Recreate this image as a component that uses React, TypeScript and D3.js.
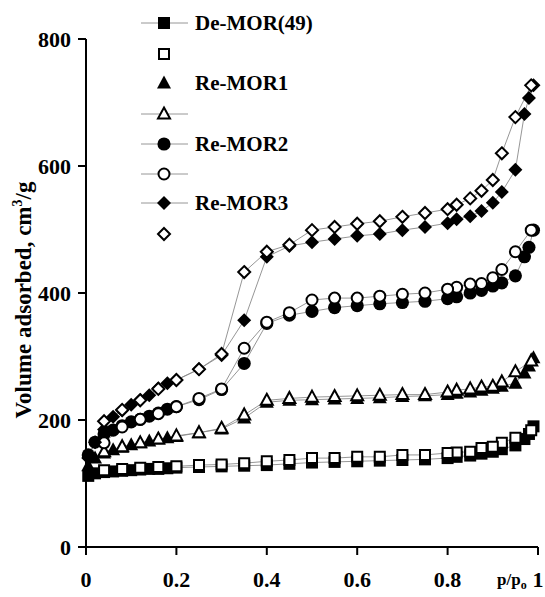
import React from "react";
import * as d3 from "d3";

const pAds = [0.005,0.02,0.04,0.06,0.08,0.1,0.12,0.14,0.16,0.18,0.2,0.25,0.3,0.35,0.4,0.45,0.5,0.55,0.6,0.65,0.7,0.75,0.8,0.82,0.85,0.875,0.9,0.92,0.95,0.97,0.98,0.99];
const pDes = [0.985,0.95,0.92,0.9,0.875,0.85,0.82,0.8,0.75,0.7,0.65,0.6,0.55,0.5,0.45,0.4,0.35,0.3,0.25,0.2,0.16,0.12,0.08,0.04];

const deMorAds = [112,116,118,119,120,121,122,123,123,124,125,126,127,128,129,131,133,134,135,136,137,138,140,142,144,147,150,154,160,170,178,190];
const deMorDes = [184,172,164,158,156,150,149,148,145,145,142,142,140,140,137,135,132,130,129,127,126,125,123,121];

const reMor1Ads = [128,140,148,153,157,161,164,167,170,172,174,180,186,203,228,231,232,233,234,235,237,238,240,242,244,247,250,253,258,274,285,298];
const reMor1Des = [293,276,260,253,252,249,247,244,240,240,239,238,237,236,234,231,208,187,180,175,170,164,158,150];

const reMor2Ads = [145,165,178,184,191,197,201,206,211,217,221,232,248,289,352,365,371,377,380,383,385,387,391,394,400,404,411,416,427,457,472,499];
const reMor2Des = [499,465,437,424,415,414,409,406,400,398,395,392,392,389,369,354,313,249,234,221,210,201,189,164];

const reMor3Ads = [140,165,185,205,215,224,232,239,250,258,263,280,302,357,457,474,480,485,490,493,499,504,510,516,521,529,542,559,594,682,707,727];
const reMor3Des = [727,677,620,578,561,549,539,532,526,520,513,509,504,499,476,465,433,304,280,263,249,231,216,198];

const seriesNames = ["De-MOR(49)", "Re-MOR1", "Re-MOR2", "Re-MOR3"];
const xTicks = [0, 0.2, 0.4, 0.6, 0.8, 1];
const xTickLabels = ["0", "0.2", "0.4", "0.6", "0.8", "1"];
const yTicks = [0, 200, 400, 600, 800];

type Shape = "square" | "triangle" | "circle" | "diamond";

function markerPath(shape: Shape): string {
  if (shape === "square") return "M-5,-5H5V5H-5Z";
  if (shape === "triangle") return "M0,-6.5L6,4.5H-6Z";
  if (shape === "diamond") return "M0,-6L6,0L0,6L-6,0Z";
  return d3.symbol().type(d3.symbolCircle).size(95)() as string;
}
function filledPath(shape: Shape): string {
  if (shape === "square") return "M-6,-6H6V6H-6Z";
  if (shape === "triangle") return "M0,-7.5L7,5.5H-7Z";
  if (shape === "diamond") return "M0,-7L7,0L0,7L-7,0Z";
  return d3.symbol().type(d3.symbolCircle).size(135)() as string;
}

const FONT = "Liberation Serif, Times New Roman, serif";

export default function App() {
  const W = 545, H = 597;
  const x = d3.scaleLinear().domain([0, 1]).range([86, 538]);
  const y = d3.scaleLinear().domain([0, 800]).range([547, 39]);
  const line = d3.line<[number, number]>().x(d => x(d[0])).y(d => y(d[1]));

  const sets: { p: number[]; v: number[]; shape: Shape; filled: boolean }[] = [
    { p: pAds, v: deMorAds, shape: "square", filled: true },
    { p: pDes, v: deMorDes, shape: "square", filled: false },
    { p: pAds, v: reMor1Ads, shape: "triangle", filled: true },
    { p: pDes, v: reMor1Des, shape: "triangle", filled: false },
    { p: pAds, v: reMor2Ads, shape: "circle", filled: true },
    { p: pDes, v: reMor2Des, shape: "circle", filled: false },
    { p: pAds, v: reMor3Ads, shape: "diamond", filled: true },
    { p: pDes, v: reMor3Des, shape: "diamond", filled: false },
  ];

  const legendRows = [23, 54, 83, 114, 144, 174, 203, 234];
  const legendHasLine = [true, false, false, true, true, true, true, false];

  const drawMarker = (shape: Shape, filled: boolean, cx: number, cy: number, key: any) =>
    filled ? (
      <path key={key} d={filledPath(shape)} transform={`translate(${cx},${cy})`} fill="#000" stroke="none" />
    ) : (
      <path key={key} d={markerPath(shape)} transform={`translate(${cx},${cy})`} fill="#fff" stroke="#000" strokeWidth={2} />
    );

  return (
    <svg width={W} height={H} style={{ position: "absolute", left: 0, top: 0, background: "#fff", fontFamily: FONT }}>
      {sets.map((s, i) => (
        <path key={"l" + i} d={line(s.p.map((p, j) => [p, s.v[j]] as [number, number])) as string}
          fill="none" stroke="#8a8a8a" strokeWidth={0.9} />
      ))}
      {sets.map((s, i) => (
        <g key={"m" + i}>
          {s.p.map((p, j) => drawMarker(s.shape, s.filled, x(p), y(s.v[j]), j))}
        </g>
      ))}
      <line x1={86} x2={86} y1={y(800)} y2={y(0)} stroke="#000" strokeWidth={2} />
      <line x1={86} x2={538} y1={547} y2={547} stroke="#000" strokeWidth={2} />
      {yTicks.map(t => (
        <g key={"yt" + t}>
          <line x1={78} x2={86} y1={y(t)} y2={y(t)} stroke="#000" strokeWidth={2} />
          <text x={71} y={y(t)} dy="0.35em" textAnchor="end" fontWeight="bold" fontSize={22}>{t}</text>
        </g>
      ))}
      {xTicks.map((t, i) => (
        <g key={"xt" + t}>
          <line x1={x(t)} x2={x(t)} y1={547} y2={555} stroke="#000" strokeWidth={2} />
          <text x={x(t)} y={587} textAnchor="middle" fontWeight="bold" fontSize={22}>{xTickLabels[i]}</text>
        </g>
      ))}
      <text x={497} y={585} fontWeight="bold" fontSize={17}>
        p/p<tspan fontSize={12} dy={4}>o</tspan>
      </text>
      <text transform={`translate(31,${300}) rotate(-90)`} textAnchor="middle" fontWeight="bold" fontSize={23}>
        Volume adsorbed, cm<tspan fontSize={14} dy={-9}>3</tspan><tspan dy={9}>/g</tspan>
      </text>
      {sets.map((s, i) => (
        <g key={"lg" + i}>
          {legendHasLine[i] && <line x1={141} x2={188} y1={legendRows[i]} y2={legendRows[i]} stroke="#8a8a8a" strokeWidth={0.9} />}
          {drawMarker(s.shape, s.filled, 164, legendRows[i], "k")}
          {i % 2 === 0 && (
            <text x={195} y={legendRows[i]} dy="0.35em" fontWeight="bold" fontSize={21}>{seriesNames[i / 2]}</text>
          )}
        </g>
      ))}
    </svg>
  );
}
